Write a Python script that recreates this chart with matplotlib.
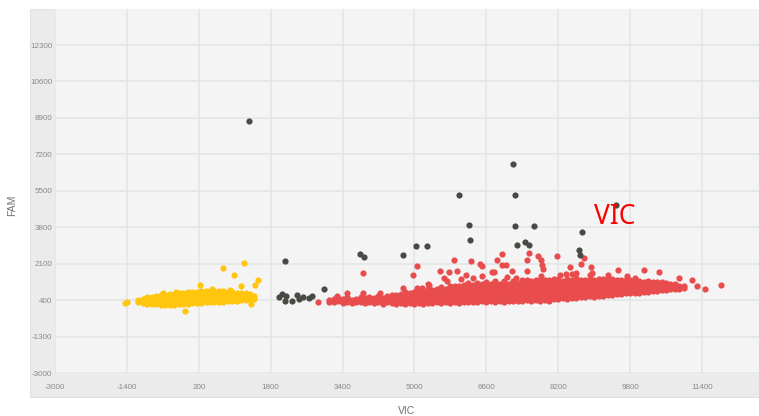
import matplotlib
matplotlib.use("Agg")
import matplotlib.pyplot as plt
from matplotlib.patches import Rectangle

# ---------------- data (VIC, FAM) ----------------
x_ticks = [-3000, -1400, 200, 1800, 3400, 5000, 6600, 8200, 9800, 11400]
y_ticks = [-3000, -1300, 400, 2100, 3800, 5500, 7200, 8900, 10600, 12300]

# yellow cluster: columns of (VIC, [FAM values])
yellow_cols = [
    (-1150, [300, 390]), (-1050, [250, 360, 450]), (-950, [230, 350, 470, 530]),
    (-850, [220, 340, 460, 560]), (-750, [200, 320, 440, 560, 600]),
    (-650, [190, 310, 430, 550, 630]), (-550, [180, 300, 420, 540, 660]),
    (-450, [180, 300, 420, 540, 670]), (-350, [190, 310, 430, 560, 690]),
    (-250, [200, 320, 450, 580, 720]), (-150, [210, 330, 460, 600, 740]),
    (-50, [230, 350, 480, 620, 760]), (50, [250, 370, 500, 640, 780]),
    (150, [260, 390, 520, 660, 800]), (250, [280, 410, 540, 680, 810]),
    (350, [290, 420, 550, 690, 820]), (450, [300, 430, 560, 700, 830]),
    (550, [310, 440, 570, 710, 830]), (650, [320, 450, 580, 710, 820]),
    (750, [330, 460, 590, 720, 810]), (850, [340, 470, 600, 720, 800]),
    (950, [350, 480, 610, 740, 780]), (1050, [370, 500, 630, 750]),
    (1150, [390, 520, 650, 730]), (1250, [410, 540, 660, 710]),
    (1350, [430, 560, 680]), (1420, [460, 600]),
]
yellow_extra = [(-1450, 260), (-1400, 320), (222, 1100), (-110, -100),
                (733, 1900), (1200, 2130), (977, 1570), (1510, 1335),
                (1443, 1100), (1132, 1050), (1332, 447), (1354, 230),
                (-600, 720), (-300, 800), (500, 900), (900, 880)]

# red cluster: columns of (VIC, [FAM values])
red_cols = [
    (3100, [330, 420]), (3200, [300, 470]), (3300, [350, 500]),
    (3400, [280, 430]), (3500, [320, 480, 560]), (3600, [260, 400]),
    (3700, [330, 470]), (3800, [290, 450, 540]), (3900, [250, 380, 500]),
    (4000, [300, 440, 560]), (4100, [260, 400, 520]), (4200, [310, 450, 580]),
    (4300, [240, 380, 520]), (4400, [290, 430, 600]),
    (4500, [250, 400, 540, 660]), (4600, [220, 350, 500, 620]),
    (4700, [270, 420, 560, 700]), (4800, [230, 370, 520, 660, 780]),
    (4900, [260, 410, 560, 720]), (5000, [220, 360, 500, 650, 800]),
    (5100, [270, 420, 570, 730, 860]), (5200, [240, 380, 530, 680, 820]),
    (5300, [280, 430, 580, 740, 900]), (5400, [250, 390, 540, 700, 850]),
    (5500, [290, 440, 600, 760, 920]), (5600, [260, 400, 560, 720, 880, 1000]),
    (5700, [300, 450, 610, 770, 930]), (5800, [270, 420, 580, 740, 900, 1050]),
    (5900, [310, 460, 620, 780, 940, 1080]), (6000, [280, 430, 590, 750, 910, 1060]),
    (6100, [320, 470, 630, 790, 950, 1110]), (6200, [290, 440, 600, 760, 920, 1080, 1180]),
    (6300, [330, 480, 640, 800, 960, 1120]), (6400, [300, 450, 610, 770, 930, 1090, 1220]),
    (6500, [340, 500, 660, 820, 980, 1140]), (6600, [310, 470, 630, 790, 950, 1110, 1250]),
    (6700, [350, 510, 670, 830, 990, 1150]), (6800, [320, 480, 640, 800, 960, 1120, 1270]),
    (6900, [360, 520, 680, 840, 1000, 1160]), (7000, [330, 490, 650, 810, 970, 1130, 1290]),
    (7100, [370, 530, 690, 850, 1010, 1170]), (7200, [340, 500, 660, 820, 980, 1140, 1300]),
    (7300, [380, 540, 700, 860, 1020, 1180]), (7400, [350, 510, 670, 830, 990, 1150, 1320]),
    (7500, [390, 550, 710, 870, 1030, 1190, 1340]), (7600, [360, 520, 680, 840, 1000, 1160, 1300]),
    (7700, [400, 560, 720, 880, 1040, 1200, 1350]), (7800, [370, 530, 690, 850, 1010, 1170, 1320]),
    (7900, [410, 570, 730, 890, 1050, 1210, 1360]), (8000, [380, 540, 700, 860, 1020, 1180, 1340]),
    (8100, [430, 590, 750, 910, 1070, 1230, 1370]), (8200, [460, 620, 780, 940, 1100, 1260, 1380]),
    (8300, [500, 660, 820, 980, 1140, 1300]), (8400, [470, 630, 790, 950, 1110, 1270, 1400]),
    (8500, [520, 680, 840, 1000, 1160, 1320]), (8600, [500, 660, 820, 980, 1140, 1300, 1410]),
    (8700, [550, 710, 870, 1030, 1190, 1350]), (8800, [530, 690, 850, 1010, 1170, 1330]),
    (8900, [580, 740, 900, 1060, 1220, 1380]), (9000, [560, 720, 880, 1040, 1200, 1360]),
    (9100, [610, 770, 930, 1090, 1250, 1390]), (9200, [600, 760, 920, 1080, 1240, 1380]),
    (9300, [650, 810, 970, 1130, 1290, 1400]), (9400, [640, 800, 960, 1120, 1280, 1390]),
    (9500, [690, 850, 1010, 1170, 1330]), (9600, [680, 840, 1000, 1160, 1320]),
    (9700, [720, 880, 1040, 1200, 1340]), (9800, [710, 870, 1030, 1190, 1330]),
    (9900, [750, 910, 1070, 1230, 1320]), (10000, [740, 900, 1060, 1220, 1310]),
    (10100, [780, 940, 1100, 1260]), (10200, [790, 950, 1110, 1270]),
    (10300, [820, 980, 1140, 1260]), (10400, [830, 990, 1150, 1250]),
    (10500, [860, 1010, 1160, 1240]), (10600, [870, 1030, 1180]),
    (10700, [900, 1050, 1170]), (10800, [910, 1060, 1150]),
    (10900, [940, 1080]), (11000, [960, 1060]),
]
red_extra = [
    (2864, 307), (3863, 1660), (3863, 727), (3286, 600), (3501, 727),
    (4240, 727), (4751, 960), (4973, 1570), (5062, 1990), (5062, 960),
    (5166, 960), (5306, 1147), (5572, 1770), (5661, 1427), (5721, 1300),
    (5772, 1720), (5883, 2280), (5950, 1754), (6150, 1570), (6254, 2220),
    (6305, 1430), (6460, 2080), (6505, 1990), (6505, 1520), (6727, 1710),
    (6771, 1707), (6829, 2282), (6940, 2548), (6940, 2050), (7029, 2050),
    (7164, 1740), (7260, 1430), (7497, 2282), (7504, 1754), (7548, 2595),
    (7748, 2455), (7808, 2282), (7844, 2050), (7866, 1848), (7815, 1520),
    (8170, 2455), (8237, 1570), (8385, 1614), (8458, 1940), (8503, 1610),
    (8607, 1660), (8718, 2080), (8770, 2360), (8925, 1940), (8947, 1660),
    (9302, 1570), (9525, 1800), (9725, 1520), (10102, 1800), (10435, 1710),
    (10879, 1430), (11168, 1330), (11279, 1050), (11479, 910), (11833, 1100),
    (6039, 1380), (5328, 1100), (7060, 1500), (8900, 1550), (9900, 1450),
]

# dark (unassigned) points
dark_pts = [
    (1310, 8760), (2109, 2235), (1976, 554), (2058, 680), (2131, 600),
    (2109, 353), (2280, 353), (2391, 633), (2442, 447), (2524, 554),
    (2664, 507), (2724, 587), (2997, 914), (3781, 2548), (3885, 2408),
    (4751, 2500), (5032, 2936), (5276, 2906), (5990, 5300), (6216, 3917),
    (6238, 3216), (7193, 6770), (7237, 5300), (7231, 3870), (7659, 3860),
    (7282, 2983), (7459, 3108), (7548, 2983), (8725, 3575), (8665, 2735),
    (8696, 2515), (9480, 4840),
]


def expand(cols, extra):
    xs, ys = [], []
    for x, ylist in cols:
        for y in ylist:
            xs.append(x)
            ys.append(y)
    for x, y in extra:
        xs.append(x)
        ys.append(y)
    return xs, ys


yx, yy = expand(yellow_cols, yellow_extra)
rx, ry = expand(red_cols, red_extra)
dx = [p[0] for p in dark_pts]
dy = [p[1] for p in dark_pts]

# ---------------- figure ----------------
W, H = 759, 416
fig = plt.figure(figsize=(W / 100, H / 100), dpi=100)
band = Rectangle((30 / W, (H - 397) / H), (W - 30) / W, 388 / H,
                 transform=fig.transFigure, facecolor="#ebebeb",
                 edgecolor="#e2e2e2", linewidth=0.8, zorder=-5)
fig.patches.append(band)

ax = fig.add_axes([55 / W, (H - 373) / H, 704 / W, 364 / H])
ax.set_zorder(2)
ax.set_facecolor("#f4f4f4")
for s in ax.spines.values():
    s.set_visible(False)

ax.set_xlim(-3000, 12670)
ax.set_ylim(-3000, 13980)
ax.set_xticks(x_ticks)
ax.set_yticks(y_ticks)
ax.set_xticklabels([str(v) for v in x_ticks])
ax.set_yticklabels([str(v) for v in y_ticks])
ax.tick_params(length=0, labelsize=5.8, labelcolor="#8a8a8a")
ax.tick_params(axis="x", pad=8)
ax.tick_params(axis="y", pad=2)
for lab in ax.get_xticklabels() + ax.get_yticklabels():
    lab.set_fontfamily("Liberation Sans")
ax.grid(True, color="#e2e5e5", linewidth=1.1)
ax.set_axisbelow(True)

ms = 20
ax.scatter(yx, yy, s=ms, color="#ffc60d", linewidths=0, zorder=3)
ax.scatter(rx, ry, s=ms, color="#e84c4d", linewidths=0, zorder=3)
ax.scatter(dx, dy, s=ms, color="#4a4a45", linewidths=0, zorder=4)

ax.text(9450, 4300, "VIC", color="#ff0000", fontsize=19, family="Noto Sans",
        ha="center", va="center", zorder=5)

ax.set_xlabel("VIC", fontsize=7.5, color="#707070", family="Liberation Sans")
ax.set_ylabel("FAM", fontsize=7.5, color="#707070", family="Liberation Sans")
ax.xaxis.set_label_coords(0.5, -0.09)
ax.yaxis.set_label_coords(-0.054, 0.46)

fig.savefig("out.png", dpi=100)
